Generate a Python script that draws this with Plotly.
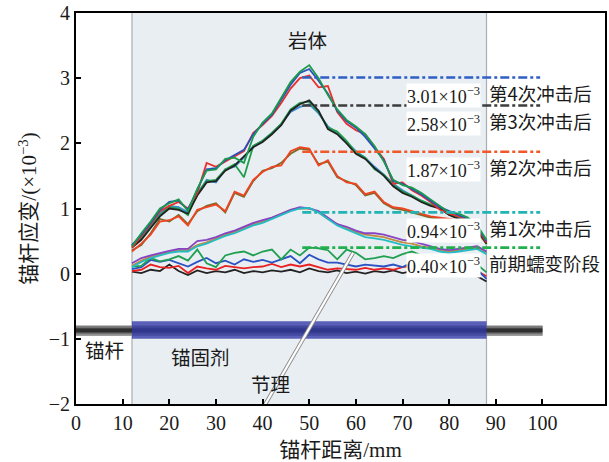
import plotly.graph_objects as go

# Measurement positions along the bolt (mm)
distance = [12, 14, 16, 18, 20, 22, 24, 26, 28, 30, 32, 34, 36, 38, 40, 42, 44, 46, 48, 50,
            52, 54, 56, 58, 60, 62, 64, 66, 68, 70, 72, 74, 76, 78, 80, 82, 84, 86, 88]

# Strain readings (×10^-3)
impact4_blue = [0.44, 0.60, 0.78, 0.98, 1.10, 1.12, 0.98, 1.28, 1.60, 1.62, 1.74, 1.82, 1.90, 2.14, 2.30, 2.44, 2.66, 2.90, 3.08, 3.14,
                2.96, 2.76, 2.50, 2.34, 2.24, 2.10, 1.92, 1.74, 1.42, 1.38, 1.30, 1.22, 1.12, 1.02, 0.96, 0.90, 0.84, 0.72, 0.50]
impact4_red = [0.40, 0.58, 0.76, 0.96, 1.04, 1.10, 1.00, 1.24, 1.70, 1.64, 1.72, 1.80, 1.88, 2.16, 2.28, 2.42, 2.62, 2.84, 3.00, 3.04,
               2.86, 2.88, 2.48, 2.30, 2.20, 2.14, 1.94, 1.76, 1.38, 1.40, 1.28, 1.20, 1.10, 0.98, 0.92, 0.88, 0.82, 0.70, 0.48]
impact4_green = [0.42, 0.62, 0.80, 1.00, 1.08, 1.14, 0.96, 1.30, 1.58, 1.60, 1.76, 1.78, 1.70, 2.10, 2.32, 2.46, 2.70, 2.94, 3.10, 3.20,
                 3.00, 2.74, 2.52, 2.36, 2.26, 2.14, 1.96, 1.72, 1.44, 1.36, 1.32, 1.24, 1.14, 1.04, 0.94, 0.92, 0.86, 0.74, 0.52]

impact3_black = [0.40, 0.52, 0.70, 0.88, 1.00, 0.98, 0.92, 1.20, 1.40, 1.42, 1.58, 1.66, 1.80, 1.94, 2.02, 2.14, 2.28, 2.50, 2.60, 2.66,
                 2.50, 2.22, 2.14, 2.00, 1.84, 1.76, 1.62, 1.50, 1.34, 1.24, 1.18, 1.10, 1.04, 1.00, 0.90, 0.84, 0.78, 0.68, 0.46]
impact3_lightblue = [0.44, 0.56, 0.74, 0.92, 1.04, 1.02, 0.94, 1.22, 1.44, 1.40, 1.60, 1.64, 1.78, 1.96, 2.04, 2.16, 2.30, 2.48, 2.56, 2.60,
                     2.46, 2.26, 2.16, 2.02, 1.88, 1.78, 1.64, 1.52, 1.38, 1.28, 1.20, 1.12, 1.06, 1.02, 0.92, 0.86, 0.80, 0.70, 0.48]
impact3_green = [0.42, 0.54, 0.72, 0.90, 1.02, 1.00, 0.90, 1.24, 1.42, 1.44, 1.60, 1.68, 1.48, 1.96, 2.04, 2.16, 2.30, 2.52, 2.62, 2.64,
                 2.48, 2.24, 2.18, 2.04, 1.86, 1.78, 1.60, 1.52, 1.36, 1.26, 1.20, 1.12, 1.06, 1.00, 0.90, 0.86, 0.80, 0.70, 0.46]

impact2_red = [0.34, 0.46, 0.60, 0.80, 0.82, 0.88, 0.74, 0.98, 1.02, 1.06, 0.96, 1.26, 1.20, 1.44, 1.56, 1.64, 1.66, 1.88, 1.94, 1.92,
               1.66, 1.74, 1.50, 1.40, 1.38, 1.22, 1.26, 1.10, 1.02, 1.00, 0.96, 0.92, 0.88, 0.86, 0.84, 0.82, 0.78, 0.66, 0.48]
impact2_olive = [0.36, 0.44, 0.62, 0.84, 0.80, 0.90, 0.76, 0.96, 1.04, 1.08, 0.94, 1.24, 1.18, 1.42, 1.58, 1.62, 1.70, 1.84, 1.92, 1.90,
                 1.68, 1.72, 1.48, 1.42, 1.36, 1.20, 1.24, 1.08, 1.00, 0.98, 0.94, 0.90, 0.86, 0.84, 0.82, 0.80, 0.76, 0.64, 0.46]

impact1_purple = [0.16, 0.24, 0.28, 0.32, 0.35, 0.38, 0.38, 0.50, 0.52, 0.56, 0.62, 0.66, 0.72, 0.78, 0.82, 0.86, 0.92, 0.98, 1.02, 1.00,
                  0.96, 0.86, 0.76, 0.72, 0.66, 0.62, 0.62, 0.60, 0.56, 0.52, 0.50, 0.46, 0.42, 0.38, 0.36, 0.38, 0.40, 0.42, 0.34]
impact1_tan = [0.12, 0.20, 0.26, 0.30, 0.33, 0.36, 0.36, 0.44, 0.48, 0.54, 0.60, 0.64, 0.70, 0.76, 0.80, 0.86, 0.92, 0.98, 1.00, 1.00,
               0.94, 0.84, 0.76, 0.70, 0.64, 0.60, 0.58, 0.56, 0.52, 0.48, 0.46, 0.42, 0.40, 0.36, 0.34, 0.36, 0.38, 0.40, 0.32]
impact1_cyan = [0.10, 0.18, 0.24, 0.28, 0.32, 0.34, 0.34, 0.42, 0.46, 0.52, 0.58, 0.62, 0.68, 0.74, 0.78, 0.84, 0.90, 0.96, 1.00, 1.01,
                0.94, 0.84, 0.74, 0.68, 0.62, 0.56, 0.54, 0.52, 0.48, 0.44, 0.42, 0.40, 0.38, 0.34, 0.32, 0.34, 0.36, 0.38, 0.30]

creep_green = [0.11, 0.12, 0.24, 0.19, 0.22, 0.27, 0.20, 0.37, 0.16, 0.10, 0.28, 0.32, 0.34, 0.28, 0.34, 0.37, 0.22, 0.37, 0.28, 0.40,
               0.39, 0.36, 0.22, 0.37, 0.32, 0.22, 0.24, 0.27, 0.24, 0.30, 0.34, 0.28, 0.26, 0.22, 0.24, 0.18, 0.24, 0.14, 0.02]
creep_blue = [0.07, 0.10, 0.21, 0.18, 0.21, 0.16, 0.11, 0.18, 0.24, 0.16, 0.20, 0.14, 0.22, 0.18, 0.21, 0.17, 0.22, 0.27, 0.16, 0.29,
              0.22, 0.17, 0.17, 0.14, 0.11, 0.14, 0.12, 0.11, 0.14, 0.10, 0.17, 0.14, 0.12, 0.10, 0.16, 0.20, 0.14, 0.06, -0.08]
creep_red = [0.04, 0.06, 0.14, 0.10, 0.09, 0.12, 0.01, 0.11, 0.08, 0.06, 0.12, 0.10, 0.08, 0.10, 0.11, 0.15, 0.10, 0.14, 0.11, 0.14,
             0.10, 0.06, 0.08, 0.07, 0.06, 0.09, 0.06, 0.08, 0.06, 0.10, 0.12, 0.08, 0.05, 0.08, 0.10, 0.12, 0.08, 0.04, -0.04]
creep_black = [0.03, 0.01, 0.06, 0.04, 0.14, 0.04, -0.02, 0.05, 0.01, 0.04, 0.02, 0.06, 0.01, 0.04, 0.02, 0.05, 0.03, 0.06, 0.02, 0.08,
               0.04, 0.02, 0.05, 0.01, 0.03, 0.00, 0.04, 0.02, 0.05, 0.01, 0.04, 0.02, 0.00, 0.03, 0.06, 0.02, 0.00, -0.04, -0.12]

# Peak strain of each stage and its label
stage_names = ["第4次冲击后", "第3次冲击后", "第2次冲击后", "第1次冲击后", "前期蠕变阶段"]
peak_values = [3.01, 2.58, 1.87, 0.94, 0.40]
peak_labels = ["3.01×10<sup>−3</sup>", "2.58×10<sup>−3</sup>", "1.87×10<sup>−3</sup>",
               "0.94×10<sup>−3</sup>", "0.40×10<sup>−3</sup>"]
peak_colors = ["#2f5fc4", "#3c3c3c", "#f0582a", "#22b4b4", "#22b04e"]

x_ticks = [0, 10, 20, 30, 40, 50, 60, 70, 80, 90, 100]
y_ticks = [-2, -1, 0, 1, 2, 3, 4]

SERIF = "Liberation Serif, Noto Sans CJK SC, serif"
CJK = "Noto Sans CJK SC, sans-serif"

fig = go.Figure()

curves = [
    (creep_black, "#222222"), (creep_red, "#e82222"), (creep_blue, "#2a52c2"), (creep_green, "#1fa050"),
    (impact1_tan, "#c08a40"), (impact1_purple, "#8444c4"), (impact1_cyan, "#22bcc4"),
    (impact2_olive, "#7a6a2a"), (impact2_red, "#f04420"),
    (impact3_lightblue, "#3a8ad0"), (impact3_green, "#1f9e4a"), (impact3_black, "#222222"),
    (impact4_red, "#e8302a"), (impact4_blue, "#2a4fbf"), (impact4_green, "#1a9a4a"),
]
for ys, col in curves:
    fig.add_trace(go.Scatter(x=distance, y=ys, mode="lines",
                             line=dict(color=col, width=1.8), showlegend=False, hoverinfo="skip"))

# Horizontal dash-dot markers at each stage peak
for val, col in zip(peak_values, peak_colors):
    fig.add_trace(go.Scatter(x=[48.5, 99.5], y=[val, val], mode="lines",
                             line=dict(color=col, width=2.6, dash="dashdot"),
                             showlegend=False, hoverinfo="skip"))

shapes = []
# Rock mass zone (grouted section)
shapes.append(dict(type="rect", xref="x", yref="y", x0=12, x1=88, y0=-2, y1=4,
                   fillcolor="#e9eef2", line=dict(width=0), layer="below"))
for xv in (12, 88):
    shapes.append(dict(type="line", xref="x", yref="y", x0=xv, x1=xv, y0=-2, y1=4,
                       line=dict(color="#a8adb2", width=1.2), layer="below"))

# Bolt body: a base bar with lighter rims and a dark core for a rounded look
bolt_layers = [(-0.95, -0.80, "#5a5a5a"), (-0.83, -0.80, "#7c7c7c"),
               (-0.90, -0.84, "#2e2e2e"), (-0.95, -0.92, "#8e8e8e")]
for y0, y1, col in bolt_layers:
    shapes.append(dict(type="rect", xref="x", yref="y", x0=0, x1=100, y0=y0, y1=y1,
                       fillcolor=col, line=dict(width=0), layer="above"))
# Grout layer
shapes.append(dict(type="rect", xref="x", yref="y", x0=12, x1=88, y0=-1.0, y1=-0.73,
                   fillcolor="#3238a8", opacity=0.78, line=dict(width=0), layer="above"))

# Joint plane (double thin line)
shapes.append(dict(type="line", xref="x", yref="y", x0=40.6, y0=-2.0, x1=59.4, y1=0.32,
                   line=dict(color="#8a8a8a", width=4), layer="above"))
shapes.append(dict(type="line", xref="x", yref="y", x0=40.6, y0=-2.0, x1=59.4, y1=0.32,
                   line=dict(color="#ffffff", width=2.2), layer="above"))

annotations = []
for val, lab, name in zip(peak_values, peak_labels, stage_names):
    annotations.append(dict(x=78.8, y=val - 0.27, xref="x", yref="y", text=lab, showarrow=False,
                            font=dict(family=SERIF, size=18, color="#1a1a1a"),
                            bgcolor="#ffffff", borderpad=0, xanchor="center", yanchor="middle"))
    annotations.append(dict(x=88.2, y=val - 0.24, xref="x", yref="y", text=name, showarrow=False,
                            font=dict(family=CJK, size=18.5, color="#1a1a1a"),
                            xanchor="left", yanchor="middle"))

for txt, xv, yv in [("岩体", 49.6, 3.6), ("锚杆", 6.2, -1.17), ("锚固剂", 26.7, -1.27), ("节理", 41.7, -1.68)]:
    annotations.append(dict(x=xv, y=yv, xref="x", yref="y", text=txt, showarrow=False,
                            font=dict(family=CJK, size=19.5, color="#1a1a1a"),
                            xanchor="center", yanchor="middle"))

fig.update_layout(
    width=609, height=462,
    margin=dict(l=76, r=4, t=13, b=58),
    paper_bgcolor="#ffffff", plot_bgcolor="#ffffff",
    shapes=shapes, annotations=annotations,
    xaxis=dict(range=[0, 113.4], tickvals=x_ticks, ticks="inside", ticklen=5, tickwidth=1.5,
               tickcolor="#000000", showline=True, linecolor="#000000", linewidth=2, mirror=True,
               showgrid=False, zeroline=False, automargin=False,
               tickfont=dict(family=SERIF, size=20, color="#1a1a1a"),
               title=dict(text="锚杆距离/mm", font=dict(family=SERIF, size=21, color="#1a1a1a"),
                          standoff=10)),
    yaxis=dict(range=[-2, 4], tickvals=y_ticks, ticks="inside", ticklen=5, tickwidth=1.5,
               tickcolor="#000000", showline=True, linecolor="#000000", linewidth=2, mirror=True,
               showgrid=False, zeroline=False, automargin=False,
               tickfont=dict(family=SERIF, size=20, color="#1a1a1a"),
               title=dict(text="锚杆应变/(×10<sup>−3</sup>)", font=dict(family=SERIF, size=21, color="#1a1a1a"),
                          standoff=6)),
)

fig.write_html("out.html")
